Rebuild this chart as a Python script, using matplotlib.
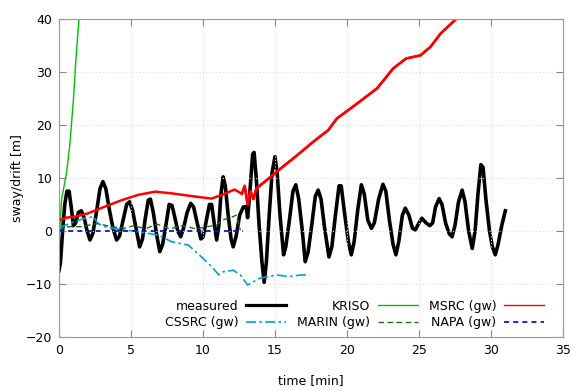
import matplotlib
matplotlib.use("Agg")
import matplotlib.pyplot as plt
from matplotlib.lines import Line2D

# measured
meas_t = [0.0, 0.1, 0.25, 0.4, 0.55, 0.7, 0.85, 1.0, 1.15, 1.35, 1.55, 1.75, 1.95, 2.15, 2.35, 2.6, 2.85, 3.05,
          3.25, 3.5, 3.75, 4.0, 4.2, 4.45, 4.7, 4.9, 5.1, 5.35, 5.6, 5.8, 6.0, 6.2, 6.35, 6.55, 6.8, 7.0, 7.2,
          7.45, 7.65, 7.85, 8.05, 8.25, 8.45, 8.65, 8.9, 9.15, 9.35, 9.6, 9.85, 10.0, 10.2, 10.45, 10.6, 10.8,
          10.95, 11.1, 11.25, 11.4, 11.55, 11.75, 11.95, 12.1, 12.3, 12.55, 12.8, 13.0, 13.1, 13.25, 13.45,
          13.55, 13.7, 13.9, 14.1, 14.25, 14.4, 14.6, 14.8, 15.0, 15.15, 15.35, 15.6, 15.75, 16.0, 16.25,
          16.45, 16.65, 16.9, 17.1, 17.3, 17.55, 17.8, 18.0, 18.2, 18.45, 18.75, 18.95, 19.2, 19.45, 19.6,
          19.85, 20.1, 20.3, 20.5, 20.75, 21.0, 21.2, 21.45, 21.7, 21.9, 22.2, 22.5, 22.7, 22.95, 23.2, 23.4,
          23.6, 23.85, 24.05, 24.3, 24.55, 24.75, 25.0, 25.2, 25.5, 25.75, 25.95, 26.15, 26.4, 26.6, 26.85,
          27.1, 27.3, 27.5, 27.75, 28.0, 28.2, 28.45, 28.7, 28.9, 29.1, 29.3, 29.45, 29.65, 29.9, 30.1, 30.3,
          30.5, 30.75, 31.0]
meas_y = [-7.5, -6, 0, 5, 7.5, 7.5, 4.5, 1.0, 1.5, 3.5, 3.8, 2.5, 0, -1.7, -0.5, 3.5, 8, 9.3,
          8, 4, 0.5, -1.7, -1, 2, 5, 5.5, 4, 0.5, -3, -1.5, 2.5, 5.8, 6.0, 3.5, -1, -3.9, -2.5,
          1.5, 5.0, 4.8, 2.5, 0, -1.1, 0.5, 3.5, 5.2, 4.5, 1.5, -1.5, -1.2, 1.5, 5.0, 5.0, 1.0,
          -1.7, 1, 7, 10.2, 8.5, 3, -1.5, -3.0, -1, 3, 4.5, 4.6, 2.5, 7, 14.5,
          14.8, 10, 1, -6, -9.7, -6, 3, 11, 14.0, 11, 3, -4.5, -3, 2, 7.5,
          8.7, 6, 0, -5.8, -4, 1, 6.5, 7.7, 6, 0.5, -4.9, -3, 3, 8.5, 8.5,
          3, -2, -4.5, -2, 4, 8.7, 7, 2, 0.5, 1.5, 6, 8.8, 7.5, 2, -2.5, -4.5,
          -2, 3, 4.3, 3, 0.5, 0.2, 1.5, 2.4, 1.5, 1, 1.5, 4.5, 6.1, 5, 1.5,
          -0.5, -1.1, 1, 5.5, 7.7, 5.5, 0, -3.3, 0, 7, 12.5, 12, 6, 0, -3, -4.5,
          -2.5, 1, 3.8]

# KRISO
kriso_t = [0.0, 0.05, 0.18, 0.53, 0.76, 1.0, 1.18, 1.39, 1.5]
kriso_y = [-0.5, 0.0, 6.0, 11.0, 16.5, 24.7, 32.5, 40.0, 43.0]

# MSRC (gw)
msrc_t = [0.0, 0.5, 1.1, 2.0, 3.2, 4.35, 5.5, 6.67, 7.8, 9.4, 10.6, 11.3, 12.2, 12.7, 12.9, 13.1, 13.3, 13.5,
          13.7, 14.3, 15.5, 16.6, 17.7, 18.7, 19.3, 20.7, 22.1, 23.2, 24.1, 25.1, 25.8, 26.5, 27.6, 28.0]
msrc_y = [2.0, 2.5, 2.7, 3.3, 4.6, 5.8, 6.8, 7.4, 7.1, 6.5, 6.1, 6.8, 7.8, 7.0, 8.5, 5.0, 7.5, 6.0,
          8.0, 9.3, 12.0, 14.4, 16.9, 19.0, 21.2, 24.0, 26.9, 30.6, 32.5, 33.1, 34.7, 37.2, 40.0, 41.0]

# CSSRC (gw)
cssrc_t = [0.0, 0.2, 1.1, 1.8, 2.4, 2.7, 3.2, 4.35, 5.5, 6.9, 7.8, 9.0, 9.9, 10.6, 11.1, 11.4, 12.1,
           12.6, 13.1, 13.96, 15.1, 16.0, 16.8, 17.4]
cssrc_y = [0.5, 0.8, 1.8, 2.4, 2.7, 1.4, 0.8, 0.2, -0.1, -0.8, -2.0, -2.7, -4.9, -6.7, -8.3, -7.7, -7.4,
           -8.3, -10.2, -8.9, -8.3, -8.6, -8.3, -8.3]

# MARIN (gw)
marin_t = [0.0, 0.3, 0.65, 1.5, 2.7, 3.6, 4.5, 5.2, 6.0, 6.8, 7.7, 8.6, 9.5, 10.3, 10.95, 11.3, 12.1, 12.3, 12.6]
marin_y = [0.0, 0.5, 0.8, 0.8, 1.4, 0.8, 0.5, 1.0, 0.4, 1.3, 0.4, 1.0, 0.4, 0.8, 1.1, 2.0, 2.7, 3.0, 0.2]

# NAPA (gw)
napa_t = [0.0, 12.8]
napa_y = [0.0, 0.0]

xticks = [0, 5, 10, 15, 20, 25, 30, 35]
yticks = [-20, -10, 0, 10, 20, 30, 40]

plt.rcParams['font.family'] = ['DejaVu Sans']
fig = plt.figure(figsize=(5.75, 3.91), dpi=100)
ax = fig.add_axes([0.1026, 0.138, 0.8764, 0.814])

c_meas, c_kriso, c_msrc = 'black', '#00c000', '#ff0000'
c_cssrc, c_marin, c_napa = '#00a0d0', '#1a6e1a', '#0000d0'
ls_cssrc, ls_marin, ls_napa = (0, (6, 2, 1.5, 2)), (0, (4, 2.5)), (0, (3, 2.5))

ax.plot(kriso_t, kriso_y, color=c_kriso, lw=1.0)
ax.plot(msrc_t, msrc_y, color=c_msrc, lw=1.8)
ax.plot(cssrc_t, cssrc_y, color=c_cssrc, lw=1.2, ls=ls_cssrc)
ax.plot(marin_t, marin_y, color=c_marin, lw=1.0, ls=ls_marin)
ax.plot(napa_t, napa_y, color=c_napa, lw=1.2, ls=ls_napa)
ax.plot(meas_t, meas_y, color=c_meas, lw=2.6, solid_joinstyle='round', zorder=1.5)
ax.plot(msrc_t[13:], msrc_y[13:], color=c_msrc, lw=1.8, zorder=1.6)

ax.set_xlim(0, 35)
ax.set_ylim(-20, 40)
ax.set_xticks(xticks)
ax.set_yticks(yticks)
ax.tick_params(direction='in', top=True, right=True, length=5, color='#888888', labelsize=9, pad=5)
for s in ax.spines.values():
    s.set_color('#999999')
ax.grid(True, color='#dddddd', ls=(0, (1, 2)), lw=0.8)
ax.set_xlabel('time [min]', fontsize=9, labelpad=12)
ax.set_ylabel('sway/drift [m]', fontsize=9, labelpad=1)

handles = [Line2D([], [], color=c_meas, lw=2.3), Line2D([], [], color=c_cssrc, lw=1.2, ls=ls_cssrc),
           Line2D([], [], color=c_kriso, lw=1.0), Line2D([], [], color=c_marin, lw=1.0, ls=ls_marin),
           Line2D([], [], color=c_msrc, lw=1.0), Line2D([], [], color=c_napa, lw=1.2, ls=ls_napa)]
labels = ['measured', 'CSSRC (gw)', 'KRISO', 'MARIN (gw)', 'MSRC (gw)', 'NAPA (gw)']
leg = ax.legend(handles=handles, labels=labels, ncol=3, markerfirst=False,
                frameon=False, fontsize=9, loc='lower right', bbox_to_anchor=(0.985, -0.01),
                handlelength=3.2, handletextpad=0.6, columnspacing=0.9, labelspacing=0.25)

fig.savefig('out.png', dpi=100)
